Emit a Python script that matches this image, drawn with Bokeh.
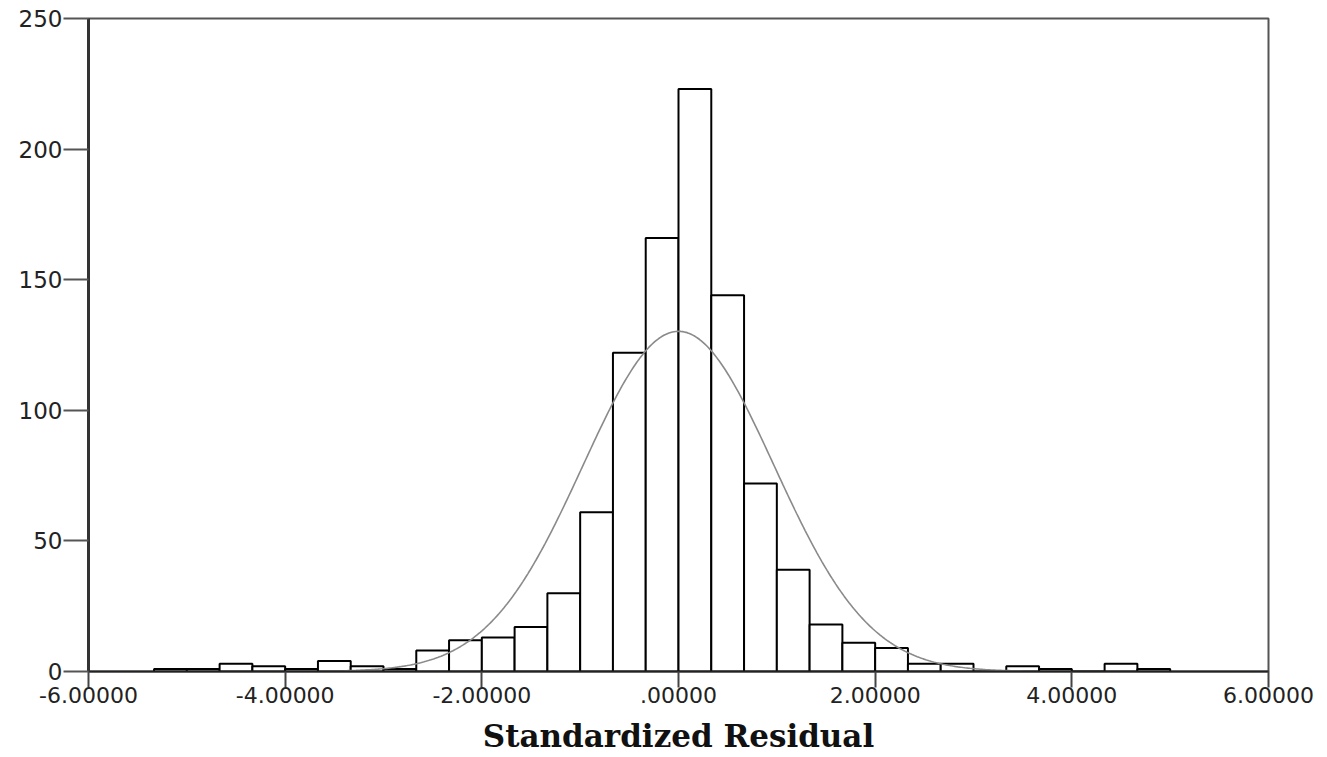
import numpy as np
from bokeh.plotting import figure
from bokeh.models import Range1d, FixedTicker
from bokeh.embed import file_html
from bokeh.resources import INLINE

# ---- data ----
bin_start = -16 / 3
bin_width = 1 / 3
counts = [1, 1, 3, 2, 1, 4, 2, 1, 8, 12, 13, 17, 30, 61, 122, 166,
          223, 144, 72, 39, 18, 11, 9, 3, 3, 0, 2, 1, 0, 3, 1]
x_ticks = [-6, -4, -2, 0, 2, 4, 6]
x_tick_labels = ["-6.00000", "-4.00000", "-2.00000", ".00000", "2.00000", "4.00000", "6.00000"]
y_ticks = [0, 50, 100, 150, 200, 250]
curve_mean = 0.0
curve_sd = 0.97
curve_n = 950
x_label = "Standardized Residual"

lefts = [bin_start + i * bin_width for i in range(len(counts))]
rights = [l + bin_width for l in lefts]

p = figure(width=1327, height=757, output_backend="svg", toolbar_location=None,
           x_range=Range1d(-6, 6), y_range=Range1d(0, 250),
           min_border_left=88, min_border_right=59, min_border_top=18, min_border_bottom=86)

p.background_fill_color = "white"
p.border_fill_color = "white"
p.xgrid.visible = False
p.ygrid.visible = False
p.outline_line_color = "#555555"
p.outline_line_width = 2

p.quad(left=lefts, right=rights, bottom=0, top=counts,
       fill_color="white", line_color="black", line_width=2)

xs = np.linspace(-3.4, 3.5, 400)
peak = curve_n * bin_width / (curve_sd * np.sqrt(2 * np.pi))
ys = peak * np.exp(-0.5 * ((xs - curve_mean) / curve_sd) ** 2)
p.line(xs, ys, line_color="#8a8a8a", line_width=1.6)

# x axis
xa = p.xaxis[0]
xa.ticker = FixedTicker(ticks=x_ticks)
xa.major_label_overrides = {t: l for t, l in zip(x_ticks, x_tick_labels)}
xa.minor_tick_line_color = None
xa.major_tick_out = 16
xa.major_tick_in = 0
xa.major_tick_line_width = 2
xa.major_tick_line_color = "#444444"
xa.axis_line_width = 2
xa.axis_line_color = "#222222"
xa.major_label_text_font = "DejaVu Sans"
xa.major_label_text_font_size = "22px"
xa.major_label_text_color = "#222222"
xa.major_label_standoff = -1
xa.axis_label = x_label
xa.axis_label_text_font = "DejaVu Serif"
xa.axis_label_text_font_style = "bold"
xa.axis_label_text_font_size = "31px"
xa.axis_label_text_color = "#111111"
xa.axis_label_standoff = 12

# y axis
ya = p.yaxis[0]
ya.ticker = FixedTicker(ticks=y_ticks)
ya.minor_tick_line_color = None
ya.major_tick_out = 25
ya.major_tick_in = 0
ya.major_tick_line_width = 2
ya.major_tick_line_color = "#555555"
ya.axis_line_width = 3
ya.axis_line_color = "#333333"
ya.major_label_text_font = "DejaVu Sans"
ya.major_label_text_font_size = "23px"
ya.major_label_text_color = "#222222"
ya.major_label_standoff = 1

open("out.html", "w").write(file_html(p, INLINE))
